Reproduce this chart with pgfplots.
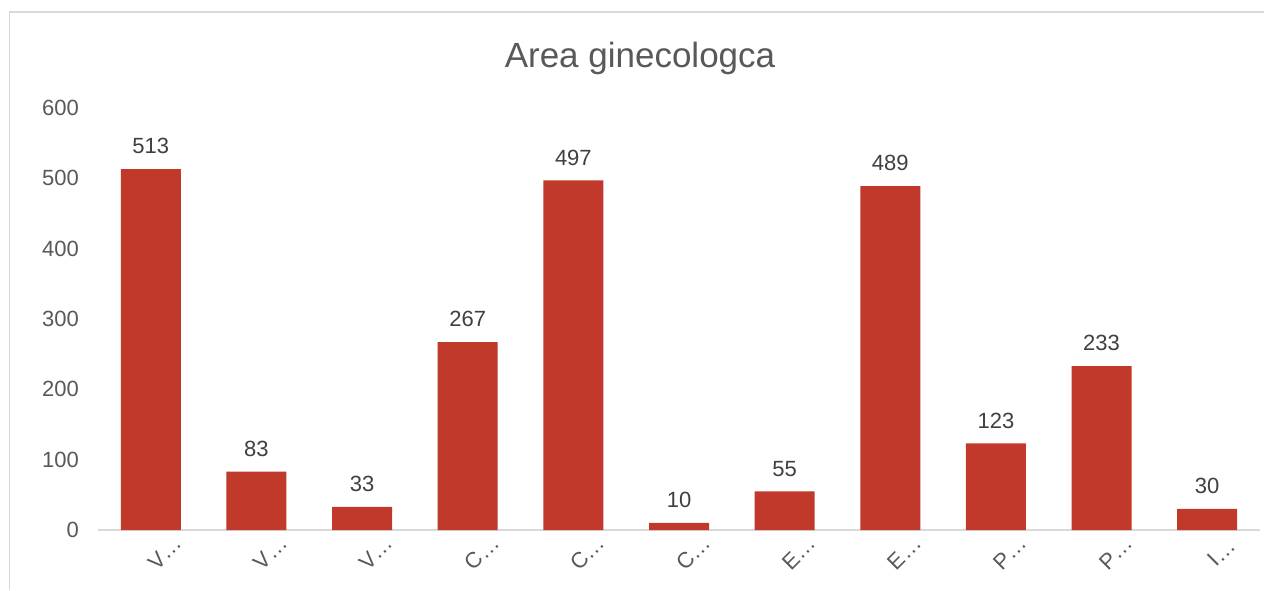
\documentclass[border=0pt]{standalone}
\usepackage{fontspec}
\setmainfont{Liberation Sans}
\usepackage{pgfplots}
\pgfplotsset{compat=1.18}
\definecolor{barred}{RGB}{192,57,43}
\definecolor{txtgray}{RGB}{89,89,89}
\definecolor{lbl}{RGB}{64,64,64}
\definecolor{linegray}{RGB}{217,217,217}
\begin{document}
\begin{tikzpicture}
\path[use as bounding box] (0,0) rectangle (632pt,295pt);
\fill[white] (0,0) rectangle (632pt,295pt);
\draw[linegray, line width=0.8pt] (4.8pt,0) -- (4.8pt,289pt) -- (632pt,289pt);
\node[txtgray, font=\fontsize{17.5}{20}\selectfont] at (320pt,266pt) {Area ginecologca};
\begin{axis}[
  at={(49pt,30pt)}, anchor=south west,
  scale only axis, width=581pt, height=211pt,
  xmin=-0.5, xmax=10.5, ymin=0, ymax=600,
  ytick={0,100,200,300,400,500,600},
  xtick=data,
  xticklabels={V…,V…,V…,C…,C…,C…,E…,E…,P…,P…,I…},
  tick style={draw=none},
  /pgf/number format/assume math mode=true,
  axis x line*=bottom, axis y line*=left,
  x axis line style={draw=linegray, line width=0.8pt, -},
  y axis line style={draw=none},
  yticklabel style={font=\fontsize{11}{12}\selectfont, text=txtgray, anchor=east, xshift=-6pt},
  xticklabel style={font=\fontsize{11}{12}\selectfont, text=txtgray, rotate=45, anchor=center, yshift=-10pt},
  ybar, bar width=30pt,
  nodes near coords,
  nodes near coords style={font=\fontsize{11}{12}\selectfont, text=lbl, anchor=south, yshift=4pt, /pgf/number format/assume math mode=true},
]
\addplot[fill=barred, draw=none] coordinates {
(0,513) (1,83) (2,33) (3,267) (4,497) (5,10) (6,55) (7,489) (8,123) (9,233) (10,30)
};
\end{axis}
\end{tikzpicture}
\end{document}
